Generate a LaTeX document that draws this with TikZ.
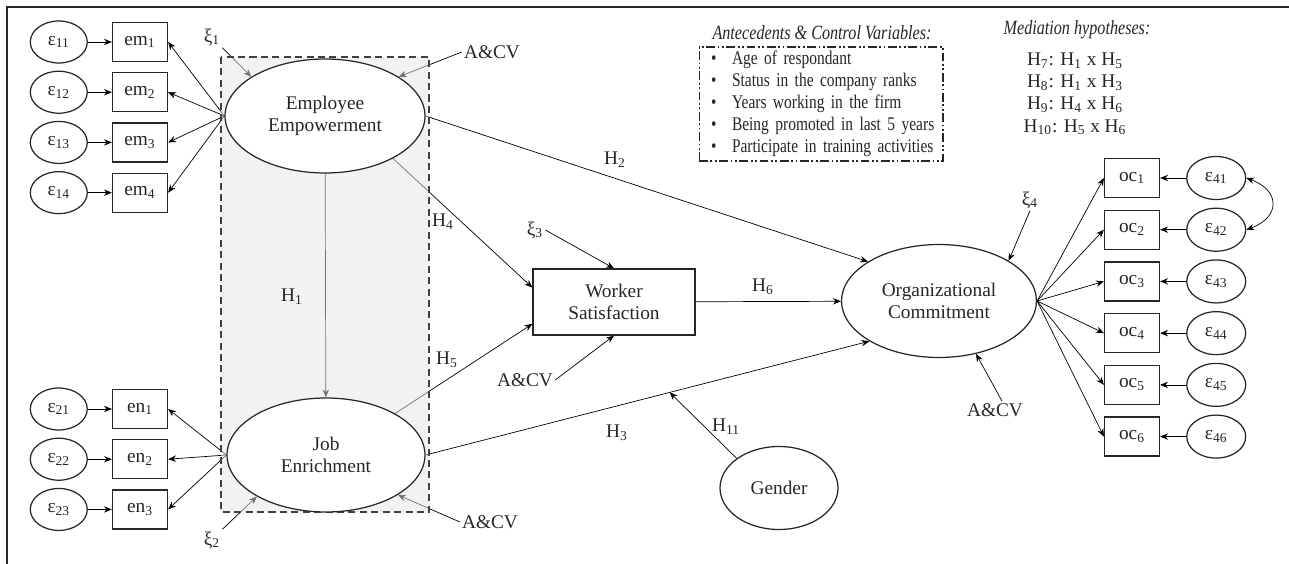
\documentclass[tikz,border=0pt]{standalone}
\usepackage{fontspec}
\setmainfont{Liberation Serif}
\newfontfamily\narrowfont[FakeStretch=0.8]{Liberation Serif}
\usetikzlibrary{positioning, arrows.meta, shapes.geometric}

\pgfdeclarelayer{edges}
\pgfdeclarelayer{shade}
\pgfsetlayers{edges,shade,main}

\tikzset{
    latent/.style={ellipse, draw, line width=0.7pt, fill=white, align=center, inner sep=0pt},
    err/.style={ellipse, draw, line width=0.7pt, fill=white, minimum width=1.14cm, minimum height=0.84cm, inner sep=0pt},
    ind/.style={rectangle, draw, line width=0.7pt, fill=white, minimum width=1.1cm, minimum height=0.78cm, inner sep=0pt},
    box/.style={rectangle, draw, line width=0.7pt, fill=white, align=center},
    tag/.style={inner sep=1pt},
    legend/.style={draw, dash pattern=on 5pt off 1.5pt on 1pt off 1.5pt on 1pt off 1.5pt, text width=4.4cm, minimum height=2.28cm, inner xsep=0.24cm, inner ysep=0pt, align=left, font=\narrowfont\fontsize{11}{12.6}\selectfont},
}
\newcommand{\legitem}[1]{\mbox{\makebox[0.42cm][l]{\textbullet}#1}}

\begin{document}
\begin{tikzpicture}[->, >={Stealth[length=4.5pt, width=3.6pt]}, x=0.02cm, y=-0.02cm, line width=0.6pt, black!85, font=\fontsize{11}{12.5}\selectfont]
        \useasboundingbox (0,0) rectangle (1289,564);
        \draw[-, line width=1.1pt] (1289,7) -- (7,7) -- (7,564);

        % constructs
        \node (EE) [latent, minimum width=4cm, minimum height=2.28cm] at (325,116) {Employee\\Empowerment};
        \node (JE) [latent, minimum width=3.96cm, minimum height=2.28cm] at (326,455) {Job\\Enrichment};
        \node (WS) [box, minimum width=3.24cm, minimum height=1.32cm] at (614,302) {Worker\\Satisfaction};
        \node (OC) [latent, minimum width=3.9cm, minimum height=2.26cm] at (939,301) {Organizational\\Commitment};
        \node (G) [latent, minimum width=2.36cm, minimum height=1.66cm] at (779,488) {Gender};

        % indicators
        \node (em1) [ind] at (140,42) {em\textsubscript{1}};
        \node (em2) [ind, below=0.2cm of em1] {em\textsubscript{2}};
        \node (em3) [ind, below=0.2cm of em2] {em\textsubscript{3}};
        \node (em4) [ind, below=0.2cm of em3] {em\textsubscript{4}};
        \node (e11) [err, left=0.48cm of em1] {ε\textsubscript{11}};
        \node (e12) [err, left=0.48cm of em2] {ε\textsubscript{12}};
        \node (e13) [err, left=0.48cm of em3] {ε\textsubscript{13}};
        \node (e14) [err, left=0.48cm of em4] {ε\textsubscript{14}};

        \node (en1) [ind] at (140,409) {en\textsubscript{1}};
        \node (en2) [ind, below=0.2cm of en1] {en\textsubscript{2}};
        \node (en3) [ind, below=0.2cm of en2] {en\textsubscript{3}};
        \node (e21) [err, left=0.48cm of en1] {ε\textsubscript{21}};
        \node (e22) [err, left=0.48cm of en2] {ε\textsubscript{22}};
        \node (e23) [err, left=0.48cm of en3] {ε\textsubscript{23}};

        \node (oc1) [ind] at (1132,178) {oc\textsubscript{1}};
        \node (oc2) [ind, below=0.23cm of oc1] {oc\textsubscript{2}};
        \node (oc3) [ind, below=0.23cm of oc2] {oc\textsubscript{3}};
        \node (oc4) [ind, below=0.23cm of oc3] {oc\textsubscript{4}};
        \node (oc5) [ind, below=0.23cm of oc4] {oc\textsubscript{5}};
        \node (oc6) [ind, below=0.23cm of oc5] {oc\textsubscript{6}};
        \node (e41) [err, minimum width=1.18cm, minimum height=0.86cm, right=0.52cm of oc1] {ε\textsubscript{41}};
        \node (e42) [err, minimum width=1.18cm, minimum height=0.86cm, right=0.52cm of oc2] {ε\textsubscript{42}};
        \node (e43) [err, minimum width=1.18cm, minimum height=0.86cm, right=0.52cm of oc3] {ε\textsubscript{43}};
        \node (e44) [err, minimum width=1.18cm, minimum height=0.86cm, right=0.52cm of oc4] {ε\textsubscript{44}};
        \node (e45) [err, minimum width=1.18cm, minimum height=0.86cm, right=0.52cm of oc5] {ε\textsubscript{45}};
        \node (e46) [err, minimum width=1.18cm, minimum height=0.86cm, right=0.52cm of oc6] {ε\textsubscript{46}};

        % disturbances and controls
        \node (xi1) [tag] at (212,37) {ξ\textsubscript{1}};
        \node (xi2) [tag] at (212,540) {ξ\textsubscript{2}};
        \node (xi3) [tag] at (535,230) {ξ\textsubscript{3}};
        \node (xi4) [tag] at (1030,200) {ξ\textsubscript{4}};
        \node (acv1) [tag] at (492,52) {A\&CV};
        \node (acv2) [tag] at (490,522) {A\&CV};
        \node (acv3) [tag] at (525,380) {A\&CV};
        \node (acv4) [tag] at (995,410) {A\&CV};

        % path labels
        \node (h1) at (292,297) {H\textsubscript{1}};
        \node (h2) at (615,160) {H\textsubscript{2}};
        \node (h3) at (617,433) {H\textsubscript{3}};
        \node (h4) at (443,222) {H\textsubscript{4}};
        \node (h5) at (447,360) {H\textsubscript{5}};
        \node (h6) at (763,287) {H\textsubscript{6}};
        \node (h11) at (726,427) {H\textsubscript{11}};

        % legends
        \node (acvhead) at (822,33) {\narrowfont\fontsize{11.5}{12.6}\selectfont\itshape Antecedents \& Control Variables:};
        \node (acvlist) [legend] at (821,104) {\legitem{Age of respondant}\\
            \legitem{Status in the company ranks}\\
            \legitem{Years working in the firm}\\
            \legitem{Being promoted in last 5 years}\\
            \legitem{Participate in training activities}};
        \node (medhead) at (1077,30) {\narrowfont\fontsize{11.5}{12.6}\selectfont\itshape Mediation hypotheses:};
        \node (medlist) [align=center, font=\fontsize{11}{12.6}\selectfont] at (1075,94) {H\textsubscript{7}: H\textsubscript{1} x H\textsubscript{5}\\
            H\textsubscript{8}: H\textsubscript{1} x H\textsubscript{3}\\
            H\textsubscript{9}: H\textsubscript{4} x H\textsubscript{6}\\
            H\textsubscript{10}: H\textsubscript{5} x H\textsubscript{6}};

        \begin{pgfonlayer}{shade}
            \draw[-, dash pattern=on 4pt off 2.5pt, line width=0.8pt, draw=black!75, fill=black!10, fill opacity=0.5] (221,57) rectangle (429,512);
        \end{pgfonlayer}

        \begin{pgfonlayer}{edges}
        \draw (JE.east) -- coordinate[pos=0.55] (h3m) (OC.210);
        \path
            (e11) edge (em1)
            (e12) edge (em2)
            (e13) edge (em3)
            (e14) edge (em4)
            (EE.west) edge (em1.east)
            (EE.west) edge (em2.east)
            (EE.west) edge (em3.east)
            (EE.west) edge (em4.east)
            (e21) edge (en1)
            (e22) edge (en2)
            (e23) edge (en3)
            (JE.west) edge (en1.east)
            (JE.west) edge (en2.east)
            (JE.west) edge (en3.east)
            (xi1.south east) edge (EE.152)
            (acv1.west) edge (EE.28)
            (xi2.north east) edge (JE.211)
            (acv2.west) edge (JE.331)
            (EE) edge (JE)
            (EE.328) edge (WS.170)
            (JE.31) edge (WS.195)
            (xi3.east) edge (WS.north)
            (acv3.east) edge (WS.south)
            (WS) edge (OC)
            (EE.east) edge (OC.151)
            (xi4.south) edge (OC.30)
            ([xshift=4pt]acv4.north) edge (OC.305)
            (G.145) edge (h3m)
            (OC.east) edge (oc1.west)
            (OC.east) edge (oc2.west)
            (OC.east) edge (oc3.west)
            (OC.east) edge (oc4.west)
            (OC.east) edge (oc5.west)
            (OC.east) edge (oc6.west)
            (e41) edge (oc1)
            (e42) edge (oc2)
            (e43) edge (oc3)
            (e44) edge (oc4)
            (e45) edge (oc5)
            (e46) edge (oc6)
            (e41.east) edge[<->, out=-20, in=20, looseness=1.8] (e42.east);
        \end{pgfonlayer}
    \end{tikzpicture}
\end{document}
